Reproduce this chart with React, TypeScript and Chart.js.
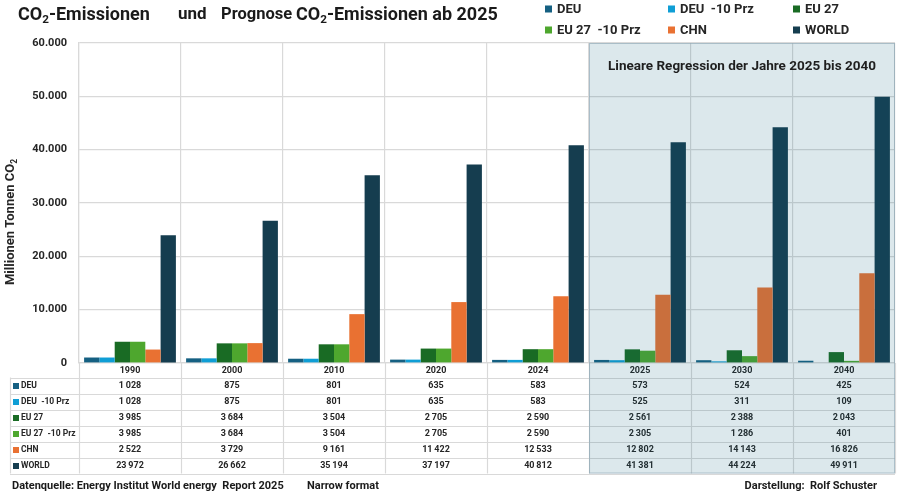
import React, { useEffect, useRef } from "react";
import { Chart, registerables } from "chart.js";

Chart.register(...registerables);

const years = ["1990", "2000", "2010", "2020", "2024", "2025", "2030", "2040"];
const deu = [1028, 875, 801, 635, 583, 573, 524, 425];
const deu10 = [1028, 875, 801, 635, 583, 525, 311, 109];
const eu27 = [3985, 3684, 3504, 2705, 2590, 2561, 2388, 2043];
const eu2710 = [3985, 3684, 3504, 2705, 2590, 2305, 1286, 401];
const chn = [2522, 3729, 9161, 11422, 12533, 12802, 14143, 16826];
const world = [23972, 26662, 35194, 37197, 40812, 41381, 44224, 49911];
const seriesNames = ["DEU", "DEU  -10 Prz", "EU 27", "EU 27  -10 Prz", "CHN", "WORLD"];
const seriesColors = ["#156082", "#0f9ed5", "#196b24", "#4ea72e", "#e97132", "#153d4f"];
const yMax = 60000;
const yStep = 10000;
const forecastStartIndex = 5;

const FF = "Roboto, 'Noto Sans', sans-serif";
const TEXT = "#262626";
const GRID = "#d9d9d9";

function fmtTable(n: number): string {
  if (n < 1000) return String(n);
  const th = Math.floor(n / 1000);
  const r = String(n % 1000).padStart(3, "0");
  return th + "\u2009" + r;
}
function fmtAxis(n: number): string {
  if (n < 1000) return String(n);
  const th = Math.floor(n / 1000);
  const r = String(n % 1000).padStart(3, "0");
  return th + "." + r;
}

type Seg = [string, boolean];
function richWidth(ctx: CanvasRenderingContext2D, segs: Seg[], size: number, weight: string) {
  let w = 0;
  for (const [t, sub] of segs) {
    ctx.font = `${weight} ${sub ? size * 0.65 : size}px ${FF}`;
    w += ctx.measureText(t).width;
  }
  return w;
}
function drawRich(ctx: CanvasRenderingContext2D, segs: Seg[], x: number, y: number, size: number, weight: string) {
  let cx = x;
  ctx.textAlign = "left";
  ctx.textBaseline = "middle";
  for (const [t, sub] of segs) {
    ctx.font = `${weight} ${sub ? size * 0.65 : size}px ${FF}`;
    ctx.fillText(t, cx, sub ? y + size * 0.28 : y);
    cx += ctx.measureText(t).width;
  }
}

const series = [deu, deu10, eu27, eu2710, chn, world];

const customPlugin = {
  id: "customDraw",
  beforeDraw(chart: any) {
    const ctx = chart.ctx as CanvasRenderingContext2D;
    ctx.save();
    ctx.fillStyle = "#ffffff";
    ctx.fillRect(0, 0, chart.width, chart.height);
    ctx.restore();
  },
  afterDraw(chart: any) {
    const ctx = chart.ctx as CanvasRenderingContext2D;
    const ca = chart.chartArea;
    const xs = chart.scales.x;
    const n = years.length;
    const cw = (ca.right - ca.left) / n;
    const headerTop = ca.bottom;
    const headerBottom = ca.bottom + 14.5;
    const rowH = 16;
    const tableBottom = headerBottom + rowH * series.length;
    const tableLeft = 10;

    ctx.save();
    // table lines
    ctx.strokeStyle = GRID;
    ctx.lineWidth = 1.2;
    for (let k = 0; k <= series.length; k++) {
      const y = Math.round(headerBottom + k * rowH) + 0.5;
      ctx.beginPath();
      ctx.moveTo(tableLeft, y);
      ctx.lineTo(ca.right, y);
      ctx.stroke();
    }
    ctx.beginPath();
    ctx.moveTo(tableLeft + 0.5, headerBottom);
    ctx.lineTo(tableLeft + 0.5, tableBottom);
    ctx.stroke();
    for (let i = 0; i <= n; i++) {
      const x = Math.round(ca.left + i * cw) + 0.5;
      ctx.beginPath();
      ctx.moveTo(x, headerTop);
      ctx.lineTo(x, tableBottom);
      ctx.stroke();
    }

    // header years
    ctx.fillStyle = TEXT;
    ctx.textAlign = "center";
    ctx.textBaseline = "middle";
    ctx.font = `bold 9px ${FF}`;
    for (let i = 0; i < n; i++) {
      ctx.fillText(years[i], xs.getPixelForValue(i), (headerTop + headerBottom) / 2 + 0.5);
    }
    // rows
    for (let r = 0; r < series.length; r++) {
      const cy = headerBottom + r * rowH + rowH / 2 + 0.5;
      ctx.fillStyle = seriesColors[r];
      ctx.fillRect(13, cy - 3, 6, 6);
      ctx.fillStyle = TEXT;
      ctx.textAlign = "left";
      ctx.font = `bold 8.5px ${FF}`;
      ctx.fillText(seriesNames[r], 21, cy);
      ctx.textAlign = "center";
      ctx.font = `bold 9px ${FF}`;
      for (let i = 0; i < n; i++) {
        ctx.fillText(fmtTable(series[r][i]), xs.getPixelForValue(i), cy);
      }
    }

    // forecast shading
    const sx = ca.left + forecastStartIndex * cw;
    ctx.fillStyle = "rgba(20,100,130,0.15)";
    ctx.fillRect(sx, ca.top, ca.right - sx, tableBottom - ca.top);
    ctx.strokeStyle = "rgba(140,165,180,0.6)";
    ctx.lineWidth = 1;
    ctx.strokeRect(sx + 0.5, ca.top + 0.5, ca.right - sx - 1, tableBottom - ca.top - 1);

    ctx.fillStyle = "#1f1f1f";
    ctx.font = `bold 13.5px ${FF}`;
    ctx.textAlign = "center";
    ctx.textBaseline = "middle";
    ctx.fillText("Lineare Regression der Jahre 2025 bis 2040", (sx + ca.right) / 2, 67);

    // title
    ctx.fillStyle = "#1a1a1a";
    drawRich(ctx, [["CO", false], ["2", true], ["-Emissionen", false]], 18, 15, 18, "bold");
    drawRich(ctx, [["und", false]], 178, 15, 17, "bold");
    drawRich(ctx, [["Prognose", false]], 221, 15, 16.5, "bold");
    drawRich(ctx, [["CO", false], ["2", true], ["-Emissionen ab 2025", false]], 296, 15, 18, "bold");

    // legend
    const legendPos = [
      [545, 9], [668, 9], [793, 9],
      [545, 30], [668, 30], [793, 30],
    ];
    ctx.textAlign = "left";
    ctx.textBaseline = "middle";
    for (let i = 0; i < seriesNames.length; i++) {
      const [lx, ly] = legendPos[i];
      ctx.fillStyle = seriesColors[i];
      ctx.fillRect(lx, ly - 3.5, 7, 7);
      ctx.fillStyle = TEXT;
      ctx.font = `bold 13px ${FF}`;
      ctx.fillText(seriesNames[i], lx + 12, ly + 0.5);
    }

    // y axis title
    const ysegs: Seg[] = [["Millionen Tonnen CO", false], ["2", true]];
    const yts = 13;
    const w = richWidth(ctx, ysegs, yts, "bold");
    ctx.save();
    ctx.translate(11, 222);
    ctx.rotate(-Math.PI / 2);
    ctx.fillStyle = TEXT;
    drawRich(ctx, ysegs, -w / 2, 0, yts, "bold");
    ctx.restore();

    // footer
    ctx.fillStyle = "#1a1a1a";
    ctx.font = `bold 11px ${FF}`;
    ctx.textAlign = "left";
    ctx.textBaseline = "middle";
    ctx.fillText("Datenquelle: Energy Institut World energy  Report 2025", 12, 486);
    ctx.fillText("Narrow format", 307, 486);
    ctx.textAlign = "right";
    ctx.fillText("Darstellung:  Rolf Schuster", 877, 486);
    ctx.restore();
  },
};

export default function App() {
  const ref = useRef<HTMLCanvasElement | null>(null);
  useEffect(() => {
    if (!ref.current) return;
    const chart = new Chart(ref.current, {
      type: "bar",
      data: {
        labels: years,
        datasets: series.map((d, i) => ({
          label: seriesNames[i],
          data: d,
          backgroundColor: seriesColors[i],
          borderWidth: 0,
          categoryPercentage: 0.9,
          barPercentage: 1.0,
        })),
      },
      options: {
        animation: false,
        responsive: false,
        devicePixelRatio: 1,
        layout: { padding: { left: 0, top: 43, right: 5, bottom: 136 } },
        plugins: {
          legend: { display: false },
          tooltip: { enabled: false },
          title: { display: false },
        },
        scales: {
          x: {
            ticks: { display: false },
            grid: { offset: true, color: GRID, drawTicks: false, lineWidth: 1.2 },
            border: { display: true, color: GRID, width: 1.2 },
            afterFit: (s: any) => {
              s.height = 0;
            },
          },
          y: {
            min: 0,
            max: yMax,
            ticks: {
              stepSize: yStep,
              padding: 12,
              color: TEXT,
              font: { family: FF, size: 11, weight: "bold" },
              callback: (v: any) => fmtAxis(Number(v)),
            },
            grid: { color: GRID, drawTicks: false, lineWidth: 1.2 },
            border: { display: true, color: GRID, width: 1.2 },
            afterFit: (s: any) => {
              s.width = 79;
            },
          },
        },
      } as any,
      plugins: [customPlugin],
    });
    return () => chart.destroy();
  }, []);
  return (
    <div style={{ position: "absolute", left: 0, top: 0, width: 900, height: 499, background: "#fff" }}>
      <canvas ref={ref} width={900} height={499} style={{ display: "block" }} />
    </div>
  );
}
